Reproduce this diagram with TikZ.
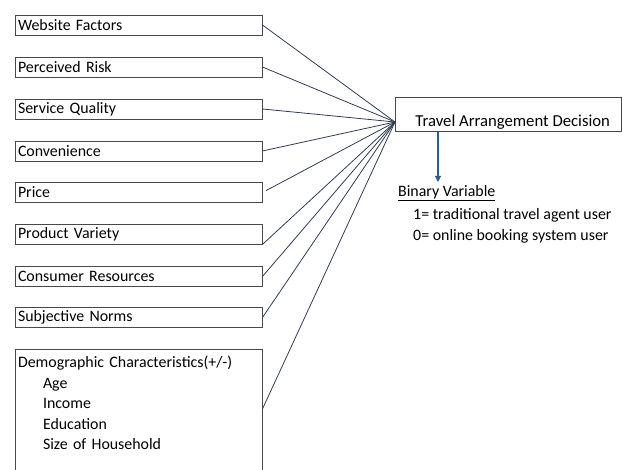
\documentclass[tikz,border=0pt]{standalone}
\usepackage{fontspec}
\setmainfont{Carlito}
\usetikzlibrary{arrows.meta}

\definecolor{boxgray}{RGB}{72,72,72}
\definecolor{linknavy}{RGB}{48,60,84}
\definecolor{arrowblue}{RGB}{44,96,134}

\tikzset{
  factor/.style={draw=boxgray, line width=0.9pt, minimum width=247pt, minimum height=20pt,
    text width=241pt, inner xsep=3pt, inner ysep=2pt, align=left},
  link/.style={draw=linknavy, line width=0.8pt},
  plain/.style={anchor=west, inner sep=0pt}
}

\begin{document}
\begin{tikzpicture}[x=1pt, y=-1pt, every node/.style={font=\fontsize{15.9}{20.6}\selectfont}]
\useasboundingbox (0,0) rectangle (622,470);

% factor boxes
\node[factor] (web) at (138.5,25) {Website Factors};
\node[factor] (risk) at (138.5,67) {Perceived Risk};
\node[factor] (serv) at (138.5,109) {Service Quality};
\node[factor] (conv) at (138.5,151) {Convenience};
\node[factor] (price) at (138.5,192.5) {Price};
\node[factor] (prod) at (138.5,234) {Product Variety};
\node[factor] (res) at (138.5,276.5) {Consumer Resources};
\node[factor] (norm) at (138.5,317.5) {Subjective Norms};
\node[factor, anchor=north, inner ysep=6.5pt] (demo) at (138.5,349) {Demographic Characteristics(+/-)\\
  \hspace*{25pt}Age\\ \hspace*{25pt}Income\\ \hspace*{25pt}Education\\
  \hspace*{25pt}Size of Household\\ \mbox{}\\ \mbox{}};

% decision
\node[draw=boxgray, line width=0.9pt, anchor=north west, minimum width=225.5pt,
  text height=25.5pt, text depth=1.5pt, inner ysep=3.5pt, font=\fontsize{16.7}{20}\selectfont]
  (dec) at (395,97) {\hspace*{9pt}Travel Arrangement Decision};
\coordinate (hub) at (395,122);

% outcome
\node[plain] (bin) at (398,193) {\underline{Binary Variable}};
\node[plain] (one) at (413,215) {1=\ traditional travel agent user};
\node[plain] (zero) at (413,236) {0=\ online booking system user};

% links
\draw[link] (web.east) -- (hub);
\draw[link] (risk.east) -- (hub);
\draw[link] (serv.east) -- (hub);
\draw[link] (conv.east) -- (hub);
\draw[link, shorten <=4pt] (price.east) -- (hub);
\draw[link] (prod.south east) -- (hub);
\draw[link] (res.east) -- (hub);
\draw[link] (norm.east) -- (hub);
\draw[link] ([yshift=-60pt]demo.north east) -- (hub);

\draw[arrowblue, line width=1.1pt, -{Triangle[width=6pt,length=6pt]}]
  (dec.south -| 438,0) -- ([yshift=3pt]bin.north -| 438,0);
\end{tikzpicture}
\end{document}
